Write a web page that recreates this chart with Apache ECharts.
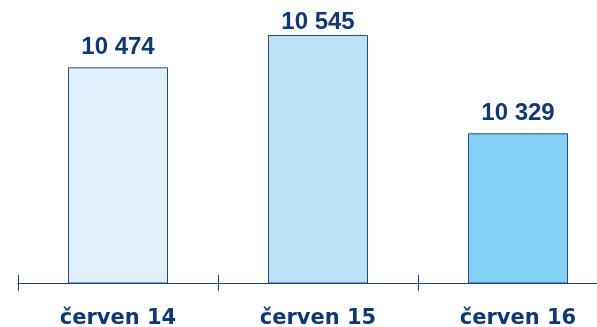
<!DOCTYPE html>
<html>
<head>
<meta charset="utf-8">
<script src="https://cdn.jsdelivr.net/npm/echarts@6/dist/echarts.min.js"></script>
<style>html,body{margin:0;padding:0;background:#fff;}#c{width:597px;height:327px;}</style>
</head>
<body>
<div id="c"></div>
<script>
const categories = ['červen 14', 'červen 15', 'červen 16'];
const values = [10474, 10545, 10329];
const barColors = ['#dff0fc', '#bde3f8', '#84d0f4'];

const navy = '#0f3875';
const chart = echarts.init(document.getElementById('c'), null, {renderer: 'canvas'});
chart.setOption({
  animation: false,
  grid: {left: 18, top: 10, width: 600, bottom: 44, containLabel: false, outerBoundsMode: 'none'},
  xAxis: [{
    type: 'category', data: categories, boundaryGap: true,
    axisLine: {lineStyle: {color: '#1f3f7a', width: 1}},
    axisTick: {show: true, length: 8, inside: false, lineStyle: {color: '#1f3f7a'}},
    axisLabel: {color: navy, fontFamily: 'DejaVu Sans', fontWeight: 'bold', fontSize: 21, margin: 25,
      formatter: v => v}
  }, {
    type: 'category', data: categories, boundaryGap: true, position: 'bottom',
    axisLine: {show: false},
    axisTick: {show: true, length: 8, inside: true, lineStyle: {color: '#1f3f7a'}},
    axisLabel: {show: false}
  }],
  yAxis: {type: 'value', min: 10000, max: 10600, show: false, splitLine: {show: false}},
  series: [{
    type: 'bar', barWidth: 100,
    data: values.map((v, i) => {
      const d = {value: v, itemStyle: {color: barColors[i]}};
      if (i === 1) d.label = {distance: 1};
      return d;
    }),
    itemStyle: {borderColor: '#2a4a85', borderWidth: 1},
    label: {show: true, position: 'top', distance: 8, color: navy,
      fontFamily: 'Liberation Sans', fontWeight: 'bold', fontSize: 24,
      formatter: p => String(p.value).replace(/\B(?=(\d{3})+(?!\d))/g, ' ')}
  }]
});
</script>
</body>
</html>
